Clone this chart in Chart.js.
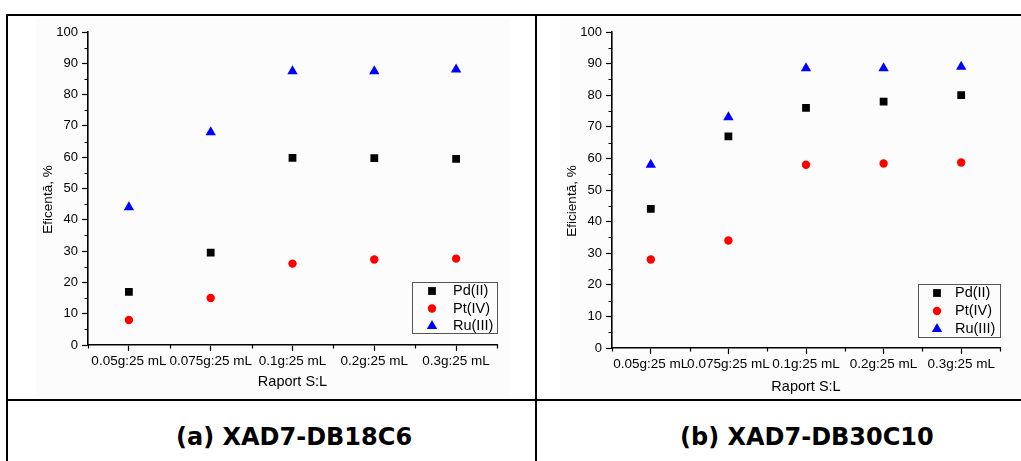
<!DOCTYPE html>
<html>
<head>
<meta charset="utf-8">
<script src="https://cdn.jsdelivr.net/npm/chart.js@4.4.1/dist/chart.umd.min.js"></script>
<style>
  body {
    margin: 0;
    background: #fff;
    width: 1021px;
    height: 461px;
    position: relative;
    overflow: hidden;
  }
  .rule {
    position: absolute;
    background: #000;
  }
  .chart-box {
    position: absolute;
  }
  .caption {
    position: absolute;
    top: 407px;
    height: 60px;
    line-height: 60px;
    font-family: 'DejaVu Sans', Verdana, sans-serif;
    font-weight: bold;
    font-size: 24px;
    color: #000;
    white-space: nowrap;
  }
</style>
</head>
<body>
<div class="rule" style="left:7px;top:14px;width:1014px;height:2px"></div>
<div class="rule" style="left:7px;top:399px;width:1014px;height:2px"></div>
<div class="rule" style="left:6px;top:14px;width:2px;height:447px"></div>
<div class="rule" style="left:535px;top:14px;width:2px;height:447px"></div>

<div class="chart-box" style="left:36px;top:18px;width:474px;height:380px"><canvas id="chartA"></canvas></div>
<div class="chart-box" style="left:560px;top:18px;width:461px;height:380px"><canvas id="chartB"></canvas></div>

<div class="caption" style="left:176px">(a) XAD7-DB18C6</div>
<div class="caption" style="left:680px">(b) XAD7-DB30C10</div>

<script>
const categories = ['0.05g:25 mL', '0.075g:25 mL', '0.1g:25 mL', '0.2g:25 mL', '0.3g:25 mL'];
const seriesNames = ['Pd(II)', 'Pt(IV)', 'Ru(III)'];

// XAD7-DB18C6
const pdA = [17, 29.5, 59.8, 59.7, 59.5];
const ptA = [8, 15, 26, 27.3, 27.6];
const ruA = [44, 68, 87.5, 87.5, 88];

// XAD7-DB30C10
const pdB = [44, 67, 76, 78, 80];
const ptB = [28, 34, 58, 58.4, 58.7];
const ruB = [58, 73, 88.5, 88.5, 89];

const FONT = "'Liberation Sans', Arial, sans-serif";
const PAPER = '#fcfcfc';

const paperBg = {
  id: 'paperBg',
  beforeDraw(chart) {
    const { ctx, width, height } = chart;
    ctx.save();
    ctx.fillStyle = PAPER;
    ctx.fillRect(0, 0, width, height);
    ctx.restore();
  },
};

// short ticks between the major ones on both axes
const minorTicks = {
  id: 'minorTicks',
  afterDraw(chart) {
    const { ctx, scales } = chart;
    const x = scales.x;
    const y = scales.y;
    ctx.save();
    ctx.strokeStyle = '#000';
    ctx.lineWidth = 1.2;
    ctx.beginPath();
    for (let i = 0; i < y.ticks.length - 1; i++) {
      const mid = (y.ticks[i].value + y.ticks[i + 1].value) / 2;
      const py = Math.round(y.getPixelForValue(mid)) + 0.5;
      ctx.moveTo(x.left - 3.5, py);
      ctx.lineTo(x.left, py);
    }
    for (let i = 0; i <= categories.length; i++) {
      const px = Math.round(x.getPixelForValue(i - 0.5)) + 0.5;
      ctx.moveTo(px, y.bottom);
      ctx.lineTo(px, y.bottom + 3.5);
    }
    ctx.stroke();
    ctx.restore();
  },
};

const yTitle = {
  id: 'yTitle',
  afterDraw(chart, args, opts) {
    const { ctx, chartArea } = chart;
    ctx.save();
    ctx.translate(chartArea.left - 40, (chartArea.top + chartArea.bottom) / 2 + 11);
    ctx.rotate(-Math.PI / 2);
    ctx.fillStyle = '#000';
    ctx.font = '13.5px ' + FONT;
    ctx.textAlign = 'center';
    ctx.textBaseline = 'middle';
    ctx.fillText(opts.text, 0, 0);
    ctx.restore();
  },
};

// boxed legend sitting in the lower right corner of the plot
const cornerLegend = {
  id: 'cornerLegend',
  afterDraw(chart, args, opts) {
    const { ctx, chartArea } = chart;
    const w = opts.width;
    const h = opts.height;
    const left = chartArea.right - w;
    const top = chartArea.bottom - opts.gap - h;
    ctx.save();
    ctx.fillStyle = PAPER;
    ctx.fillRect(left, top, w, h);
    ctx.strokeStyle = '#555';
    ctx.lineWidth = 1;
    ctx.strokeRect(left + 0.5, top + 0.5, w, h);
    ctx.font = '14.5px ' + FONT;
    ctx.textBaseline = 'middle';
    chart.data.datasets.forEach((ds, i) => {
      const cy = top + 9 + i * opts.rowGap;
      ctx.fillStyle = ds.backgroundColor;
      Chart.helpers.drawPoint(ctx, {
        pointStyle: ds.pointStyle,
        radius: ds.pointRadius,
        rotation: 0,
        borderWidth: 0,
      }, left + opts.markerX, cy);
      ctx.fillStyle = '#000';
      ctx.fillText(ds.label, left + opts.textX, cy);
    });
    ctx.restore();
  },
};

function makeChart(id, pd, pt, ru, cfg) {
  const el = document.getElementById(id).getContext('2d');
  return new Chart(el, {
    type: 'line',
    data: {
      labels: categories,
      datasets: [
        { label: seriesNames[0], data: pd, pointStyle: 'rect', pointRadius: 5.5, backgroundColor: '#000', borderColor: '#000' },
        { label: seriesNames[1], data: pt, pointStyle: 'circle', pointRadius: 4.2, backgroundColor: '#ff0000', borderColor: '#ff0000' },
        { label: seriesNames[2], data: ru, pointStyle: 'triangle', pointRadius: 6, backgroundColor: '#0000ff', borderColor: '#0000ff' },
      ].map(ds => ({ ...ds, showLine: false, pointBorderWidth: 0, pointHoverRadius: ds.pointRadius })),
    },
    options: {
      responsive: true,
      maintainAspectRatio: false,
      animation: false,
      layout: { padding: { top: 14, right: cfg.padRight, left: 0, bottom: 0 } },
      plugins: {
        legend: { display: false },
        tooltip: { enabled: false },
        yTitle: { text: cfg.yText },
        cornerLegend: cfg.legend,
      },
      scales: {
        x: {
          offset: true,
          grid: { drawOnChartArea: false, offset: false, tickLength: 6, tickColor: '#000', tickWidth: 1.2 },
          border: { color: '#000', width: 1.6 },
          ticks: { color: '#000', font: { family: FONT, size: 13.5 }, padding: 2, maxRotation: 0, autoSkip: false },
          title: { display: true, text: 'Raport S:L', color: '#000', font: { family: FONT, size: 14.5 }, padding: { top: 0, bottom: cfg.xTitlePad } },
          afterFit: s => { s.height = cfg.xHeight; },
        },
        y: {
          min: 0,
          max: 100,
          grid: { drawOnChartArea: false, tickLength: 6, tickColor: '#000', tickWidth: 1.2 },
          border: { color: '#000', width: 1.6 },
          ticks: { stepSize: 10, color: '#000', font: { family: FONT, size: 13 }, padding: 4 },
          afterFit: s => { s.width = 52; },
        },
      },
    },
    plugins: [paperBg, minorTicks, yTitle, cornerLegend],
  });
}

const chartA = makeChart('chartA', pdA, ptA, ruA, {
  padRight: 13,
  xHeight: 53,
  xTitlePad: 7,
  yText: 'Eficentă, %',
  legend: { width: 85, height: 51, gap: 12, rowGap: 17.5, markerX: 20, textX: 41 },
});

const chartB = makeChart('chartB', pdB, ptB, ruB, {
  padRight: 21,
  xHeight: 50,
  xTitlePad: 2,
  yText: 'Eficientă, %',
  legend: { width: 82, height: 53, gap: 11, rowGap: 18, markerX: 19, textX: 37 },
});
</script>
</body>
</html>
